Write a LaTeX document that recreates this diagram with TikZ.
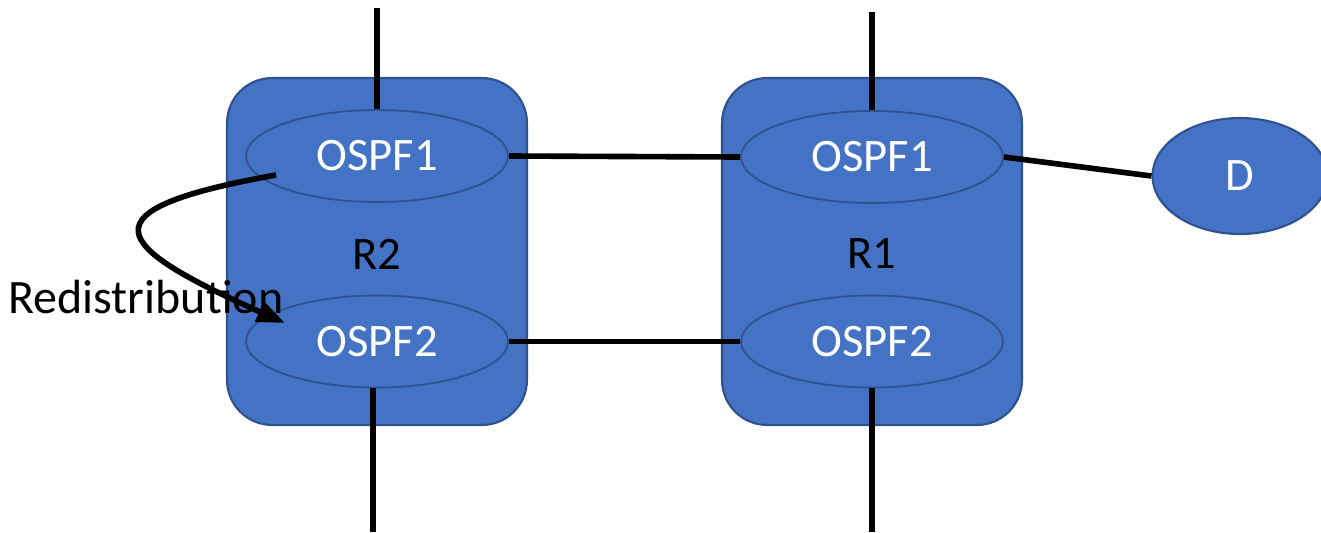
\documentclass[tikz,border=0pt]{standalone}
\usepackage{fontspec}
\setmainfont{Carlito}
\usetikzlibrary{shapes.geometric,arrows.meta}
\definecolor{fillblue}{HTML}{4472C4}
\definecolor{edgeblue}{HTML}{2F528F}
\tikzset{
  router/.style={draw=edgeblue, line width=1.2pt, fill=fillblue, rounded corners=0.9cm,
    minimum width=6cm, minimum height=6.94cm, inner sep=0pt},
  proc/.style={ellipse, draw=edgeblue, line width=1pt, fill=fillblue, text=white,
    minimum width=5.24cm, minimum height=1.84cm, inner sep=0pt,
    font=\fontsize{26.5}{30}\selectfont},
  dest/.style={ellipse, draw=edgeblue, line width=1.2pt, fill=fillblue, text=white,
    minimum width=3.5cm, minimum height=2.32cm, inner sep=0pt,
    font=\fontsize{26.5}{30}\selectfont},
  lbl/.style={font=\fontsize{26.5}{30}\selectfont, text=black, inner sep=0pt},
  redlbl/.style={font=\fontsize{27.3}{30}\selectfont, text=black, inner sep=0pt},
  link/.style={line width=3.2pt, black},
}
\begin{document}
\begin{tikzpicture}[x=0.02cm, y=-0.02cm]
\useasboundingbox (0,0) rectangle (1321,532);
% routers
\node[router] (r2) at (377,251.5) {};
\node[router] (r1) at (872,251.5) {};
\node[lbl] (r2l) at (377,254) {R2};
\node[lbl] (r1l) at (872,254) {R1};
% processes
\node[proc] (r2o1) at (377,156) {OSPF1};
\node[proc] (r2o2) at (377,341.5) {OSPF2};
\node[proc] (r1o1) at (872,157) {OSPF1};
\node[proc] (r1o2) at (872,341.5) {OSPF2};
\node[dest] (d) at (1240,176) {D};
% free ends
\coordinate (t2) at (377,8);
\coordinate (t1) at (872,12);
\coordinate (b2) at (373,532);
\coordinate (b1) at (872,532);
\coordinate (b2s) at (373,388);
% links
\draw[link] (r2o1.north) -- (t2);
\draw[link] (r1o1.north) -- (t1);
\draw[link] (b2s) -- (b2);
\draw[link] (r1o2.south) -- (b1);
\draw[link] (r2o1.east) -- (r1o1.west);
\draw[link] (r2o2.east) -- (r1o2.west);
\draw[link] (r1o1.east) -- (d.west);
% redistribution
\coordinate (rs) at (276,175);
\coordinate (re) at (285,323);
\draw[link, -{Triangle[length=16pt, width=12pt]}] (rs) .. controls (80,210) and (110,245) .. (re);
\node[redlbl, anchor=west] (red) at (8,297) {Redistribution};
\end{tikzpicture}
\end{document}
